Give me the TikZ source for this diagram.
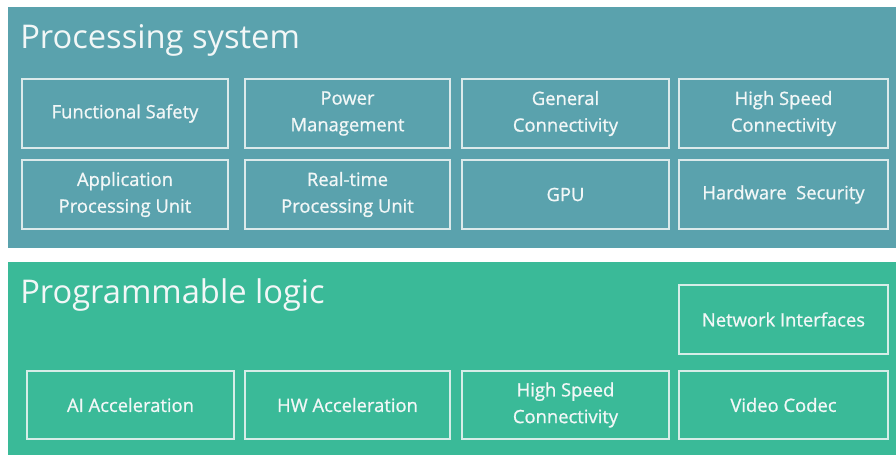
\documentclass[tikz,border=0pt]{standalone}
\usepackage{fontspec}
\setmainfont{Open Sans}
\newfontfamily\boxfont{Open Sans}[FakeBold=1.2]
\definecolor{pscol}{HTML}{5AA2AD}
\definecolor{plcol}{HTML}{3ABA98}
\definecolor{txtcol}{HTML}{F2F7F7}
\begin{document}
\begin{tikzpicture}[x=0.75pt,y=-0.75pt,
  blk/.style={draw=txtcol, draw opacity=0.85, line width=1.2pt, text=txtcol, align=center,
    font=\boxfont\fontsize{13.8}{20}\selectfont, inner sep=0pt},
  ttl/.style={anchor=base west, text=txtcol, font=\fontsize{24.5}{28}\selectfont, inner sep=0pt}]
\useasboundingbox (0,0) rectangle (896,455);
\fill[white] (0,0) rectangle (896,455);
\fill[pscol] (8,7) rectangle (896,248);
\fill[plcol] (8,262) rectangle (896,455);
\node[ttl] (pst) at (20,48) {Processing system};
\node[ttl] (plt) at (20,303) {Programmable logic};
% boxes
\newcommand{\blkbox}[6]{\draw[blk] (#1,#2) rectangle (#3,#4) node[midway, draw=none] (#5) {#6};}
\blkbox{22}{79}{228}{148}{fs}{Functional Safety}
\blkbox{245}{79}{450}{148}{pm}{Power\\Management}
\blkbox{462}{79}{669}{148}{gc}{General\\Connectivity}
\blkbox{679}{79}{888}{148}{hsc}{High Speed\\Connectivity}
\blkbox{22}{160}{228}{229}{apu}{Application\\Processing Unit}
\blkbox{245}{160}{450}{229}{rpu}{Real-time\\Processing Unit}
\blkbox{462}{160}{669}{229}{gpu}{GPU}
\blkbox{679}{160}{888}{229}{hws}{Hardware~ Security}
\blkbox{679}{285}{888}{354}{ni}{Network Interfaces}
\blkbox{27}{371}{234}{439}{ai}{AI Acceleration}
\blkbox{245}{371}{450}{439}{hw}{HW Acceleration}
\blkbox{462}{371}{669}{439}{hsc2}{High Speed\\Connectivity}
\blkbox{679}{371}{888}{439}{vc}{Video Codec}
\end{tikzpicture}
\end{document}
